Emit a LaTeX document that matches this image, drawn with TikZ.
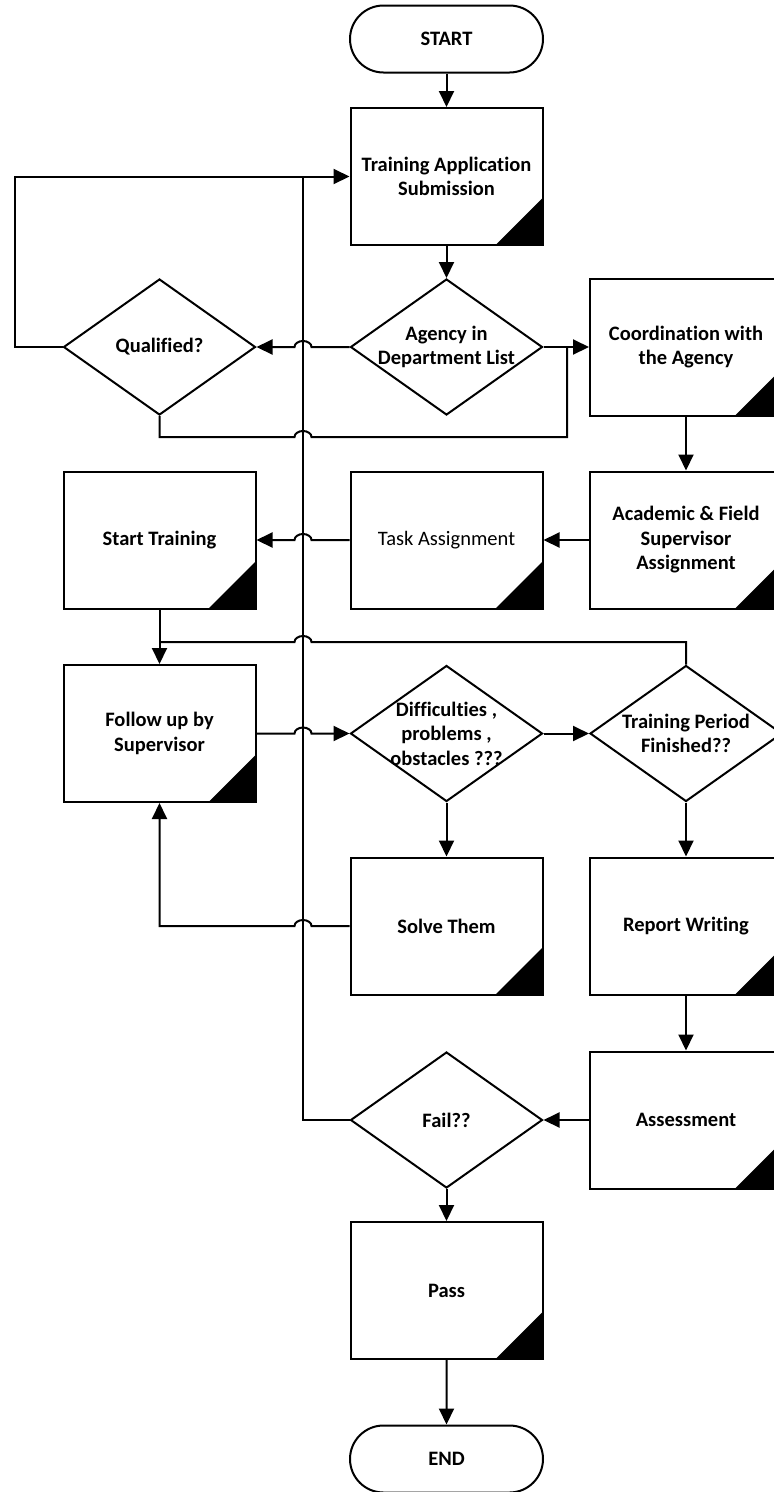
\documentclass[tikz,border=0pt]{standalone}
\usepackage{fontspec}
\setmainfont{Carlito}[Ligatures=NoCommon]
\usetikzlibrary{arrows.meta,shapes.geometric,shapes.misc,calc}

\begin{document}
\begin{tikzpicture}[x=1pt,y=-1pt,
  line width=2pt,
  txtfont/.style={font=\fontsize{20.5}{24.5}\selectfont\bfseries},
  flow/.style={-{Triangle[length=16pt,width=15pt]}},
  base/.style={draw, line width=2pt, fill=white, inner sep=0pt, align=center, txtfont},
  proc/.style={base, rectangle, minimum width=192pt, minimum height=137pt,
    path picture={\fill[black] (path picture bounding box.south east)
      -- ++(-47pt,0pt) -- ++(47pt,47pt) -- cycle;}},
  term/.style={base, rounded rectangle, minimum width=193pt, minimum height=67pt},
  dia/.style={draw, line width=2pt, fill=white, diamond, minimum width=192pt,
    minimum height=136pt, inner sep=0pt},
  lbl/.style={align=center, inner sep=0pt, txtfont},
]
\useasboundingbox (0,0) rectangle (774,1492);
\fill[white] (0,0) rectangle (774,1492);

% nodes (three columns: x = 159.5, 446.5, 686)
\node[term] (start) at (446.5,39) {START};
\node[proc] (tas) at (446.5,176.5) {Training Application\\Submission};
\node[dia] (agency) at (446.5,347) {};
\node[lbl] (agency-t) at (agency) {Agency in\\Department List};
\node[dia] (qual) at (159.5,347) {};
\node[lbl] (qual-t) at (qual) {Qualified?};
\node[proc] (coord) at (686,347) {Coordination with\\the Agency};
\node[proc] (starttr) at (159.5,540) {Start Training};
\node[proc, font=\fontsize{20.5}{24.5}\selectfont] (task) at (446.5,540) {Task Assignment};
\node[proc] (acad) at (686,540) {Academic \& Field\\Supervisor\\Assignment};
\node[proc] (follow) at (159.5,733.5) {Follow up by\\Supervisor};
\node[dia] (diff) at (446.5,733.5) {};
\node[lbl] (diff-t) at (diff) {Difficulties ,\\problems ,\\obstacles ???};
\node[dia] (period) at (686,733.5) {};
\node[lbl] (period-t) at (period) {Training Period\\Finished??};
\node[proc] (solve) at (446.5,926) {Solve Them};
\node[proc] (report) at (686,926) {Report Writing};
\node[dia] (fail) at (446.5,1120) {};
\node[lbl] (fail-t) at (fail) {Fail??};
\node[proc] (assess) at (686,1120) {Assessment};
\node[proc] (pass) at (446.5,1290.5) {Pass};
\node[term] (end) at (446.5,1459) {END};

% helper coordinates
\coordinate (spine) at (303,176.5);
\coordinate (loopx) at (15,176.5);
\coordinate (joinx) at (567,437);
\coordinate (busy) at (0,642);

% connectors
\draw[flow] (start) -- (tas);
\draw[flow] (tas) -- (agency);
\draw[flow] (agency.west) -- ($(spine |- agency.west)+(8.5,0)$)
  arc[start angle=0, end angle=180, x radius=8.5pt, y radius=6pt] -- (qual.east);
\draw[flow] (qual.west) -- (loopx |- qual.west) -- (loopx) -- (tas.west);
\draw[flow] (agency.east) -- (coord.west);
\draw (qual.south) -- (qual.south |- joinx) -- ($(spine |- joinx)-(8.5,0)$)
  arc[start angle=180, end angle=0, x radius=8.5pt, y radius=6pt]
  -- (joinx) -- (joinx |- agency.east);
\draw (fail.west) -- (spine |- fail.west) -- (spine);
\draw[flow] (coord) -- (acad);
\draw[flow] (acad) -- (task);
\draw[flow] (task.west) -- ($(spine |- task.west)+(8.5,0)$)
  arc[start angle=0, end angle=180, x radius=8.5pt, y radius=6pt] -- (starttr.east);
\draw[flow] (starttr) -- (follow);
\draw (period.north) -- (period.north |- busy) -- ($(spine |- busy)+(8.5,0)$)
  arc[start angle=0, end angle=180, x radius=8.5pt, y radius=6pt] -- (starttr.south |- busy);
\draw[flow] (follow.east) -- ($(spine |- follow.east)-(8.5,0)$)
  arc[start angle=180, end angle=0, x radius=8.5pt, y radius=6pt] -- (diff.west);
\draw[flow] (diff) -- (period);
\draw[flow] (diff) -- (solve);
\draw[flow] (period) -- (report);
\draw[flow] (solve.west) -- ($(spine |- solve.west)+(8.5,0)$)
  arc[start angle=0, end angle=180, x radius=8.5pt, y radius=6pt]
  -- (follow.south |- solve.west) -- (follow.south);
\draw[flow] (report) -- (assess);
\draw[flow] (assess) -- (fail);
\draw[flow] (fail) -- (pass);
\draw[flow] (pass) -- (end);
\end{tikzpicture}
\end{document}
